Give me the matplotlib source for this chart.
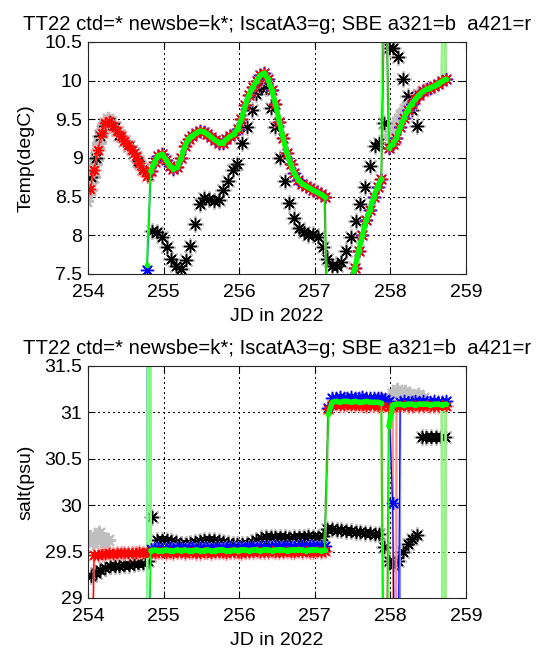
import numpy as np
import matplotlib
matplotlib.use('Agg')
import matplotlib.pyplot as plt
from matplotlib.ticker import FormatStrFormatter

plt.rcParams['font.family'] = ['Liberation Sans', 'DejaVu Sans']
plt.rcParams['font.size'] = 14

nan = np.nan

title = 'TT22 ctd=* newsbe=k*; IscatA3=g; SBE a321=b  a421=r'

# SBE / Iscat sampling, 0.05 day steps from 254.03
jd_sbe = 254.03 + 0.05 * np.arange(95)
# newsbe sampling, 1.5 h steps from 254.04
jd_newsbe = 254.04 + np.arange(76) / 16.0

# temperature, a421 (red)
temp_a421 = [8.60, 8.85, 9.10, 9.32, 9.45, 9.48, 9.42, 9.35, 9.28, 9.22,
             9.17, 9.10, 9.02, 8.94, 8.85, 8.77, 8.83, 8.95, 9.03, 9.05,
             8.98, 8.90, 8.86, 8.88, 9.00, 9.15, 9.25, 9.29, 9.32, 9.35,
             9.34, 9.31, 9.27, 9.23, 9.20, 9.20, 9.24, 9.28, 9.31, 9.38,
             9.50, 9.68, 9.82, 9.92, 10.00, 10.07, 10.10, 10.02, 9.88, 9.70,
             9.47, 9.26, 9.07, 8.92, 8.80, 8.72, 8.67, 8.64, 8.61, 8.58,
             8.56, 8.53, 8.50, 6.20, 6.40, 6.60, 6.80, 7.00, 7.20, 7.40,
             7.58, 7.80, 8.00, 8.20, 8.33, 8.50, 8.63, 8.73, 12.0, 9.13,
             9.18, 9.26, 9.40, 9.52, 9.62, 9.70, 9.76, 9.82, 9.86, 9.89,
             9.91, 9.93, 9.96, 9.99, 10.02]
# a321 (blue) and IscatA3 (green) start later and overlay a421 afterwards
temp_a321 = [nan] * 15 + [7.55] + temp_a421[16:]
temp_iscat = [nan] * 15 + [7.62] + temp_a421[16:]

# salinity
salt_a421 = [27.00, 29.46, 29.46, 29.47, 29.47, 29.48, 29.47, 29.48, 29.48, 29.49,
             29.48, 29.49, 29.49, 29.50, 29.49, 29.50, 29.50, 29.49, 29.50, 29.50,
             29.49, 29.50, 29.49, 29.50, 29.50, 29.49, 29.50, 29.50, 29.49, 29.49,
             29.50, 29.50, 29.49, 29.50, 29.50, 29.50, 29.49, 29.50, 29.50, 29.50,
             29.49, 29.50, 29.50, 29.50, 29.51, 29.50, 29.50, 29.50, 29.51, 29.50,
             29.50, 29.50, 29.51, 29.50, 29.50, 29.51, 29.50, 29.51, 29.50, 29.50,
             29.51, 29.50, 29.51, 31.04, 31.08, 31.09, 31.08, 31.08, 31.09, 31.08,
             31.08, 31.08, 31.08, 31.07, 31.08, 31.08, 31.07, 31.07, 26.00, 31.06,
             31.06, 31.07, 31.07, 31.08, 31.07, 31.07, 31.08, 31.07, 31.07, 31.08,
             31.07, 31.07, 31.07, 31.08, 31.07]
salt_iscat = ([nan] * 15 + [27.00] +
              [29.51, 29.52, 29.51, 29.51, 29.52, 29.51, 29.51, 29.52, 29.51, 29.52,
               29.51, 29.51, 29.52, 29.51, 29.51, 29.52, 29.51, 29.51, 29.52, 29.52,
               29.51, 29.51, 29.52, 29.51, 29.52, 29.52, 29.51, 29.52, 29.52, 29.51,
               29.52, 29.52, 29.51, 29.52, 29.52, 29.52, 29.51, 29.52, 29.52, 29.52,
               29.52, 29.51, 29.52, 29.52, 29.52, 29.51, 29.52] +
              [30.98] +
              [31.11, 31.12, 31.11, 31.12, 31.12, 31.11, 31.12, 31.11, 31.11, 31.12,
               31.11, 31.11, 31.11, 31.10] +
              [25.00, 30.85] +
              [31.08, 31.09, 31.09, 31.08, 31.09, 31.09, 31.08, 31.09, 31.09, 31.09,
               31.08, 31.09, 31.09, 31.08, 31.09])
salt_a321 = ([nan] * 15 + [27.00] +
             [29.53, 29.53, 29.54, 29.53, 29.53, 29.54, 29.53, 29.54, 29.54, 29.53,
              29.54, 29.54, 29.53, 29.54, 29.54, 29.54, 29.53, 29.54, 29.54, 29.54,
              29.54, 29.55, 29.54, 29.54, 29.55, 29.54, 29.55, 29.55, 29.54, 29.55,
              29.55, 29.55, 29.55, 29.56, 29.55, 29.55, 29.56, 29.55, 29.55, 29.56,
              29.56, 29.55, 29.56, 29.56, 29.55, 29.56, 29.56] +
             [31.05] +
             [31.15, 31.16, 31.17, 31.16, 31.16, 31.17, 31.16, 31.16, 31.17, 31.16,
              31.15, 31.16, 31.16, 31.15] +
             [31.14, 31.12, 30.02, 26.00] +
             [31.11, 31.12, 31.11, 31.11, 31.12, 31.11, 31.12, 31.11, 31.11, 31.12,
              31.11, 31.11, 31.12])

# raw (unedited) spikes seen only in the light traces: (jd, value)
temp_spikes_a421 = [(258.71, 14.0)]
temp_spikes_a321 = []
temp_spikes_iscat = [(257.91, 14.0), (258.72, 14.0)]
salt_spikes_a421 = [(258.07, 20.0), (258.71, 20.0)]
salt_spikes_a321 = [(254.79, 40.0), (258.11, 20.0)]
salt_spikes_iscat = [(254.81, 40.0), (258.72, 20.0)]

# newsbe (black stars)
newsbe_temp = [8.75, 9.00, 9.28, 9.42, 9.46, 9.40, 9.30, 9.22, 9.15, 9.06,
               8.96, 8.86, 8.78, 8.05, 8.04, 7.98, 7.85, 7.70, 7.60, 7.57,
               7.68, 7.86, 8.15, 8.40, 8.48, 8.47, 8.45, 8.46, 8.58, 8.70,
               8.85, 8.92, 9.20, 9.40, 9.62, 9.83, 9.92, 9.90, 9.65, 9.40,
               9.00, 8.70, 8.42, 8.22, 8.10, 8.04, 8.01, 8.02, 7.98, 7.85,
               7.70, 7.60, 7.60, 7.66, 7.80, 7.98, 8.18, 8.40, 8.62, 8.90,
               9.15, 9.20, 9.45, 10.42, 10.42, 10.30, 10.02, 9.80, 9.62, 9.42,
               nan, nan, nan, nan, nan, nan]
newsbe_salt = [29.24, 29.27, 29.30, 29.32, 29.34, 29.35, 29.35, 29.36, 29.36, 29.37,
               29.38, 29.38, 29.40, 29.87, 29.62, 29.63, 29.62, 29.61, 29.60, 29.58,
               29.58, 29.59, 29.60, 29.61, 29.62, 29.63, 29.62, 29.61, 29.60, 29.59,
               29.58, 29.58, 29.58, 29.58, 29.60, 29.63, 29.65, 29.66, 29.66, 29.66,
               29.66, 29.66, 29.65, 29.66, 29.66, 29.66, 29.67, 29.66, 29.66, 29.67,
               29.74, 29.74, 29.73, 29.73, 29.72, 29.72, 29.71, 29.71, 29.70, 29.70,
               29.69, 29.69, 29.55, 29.40, 29.36, 29.40, 29.50, 29.58, 29.64, 29.68,
               30.73, 30.74, 30.73, 30.73, 30.74, 30.73]

# ctd casts (gray)
ctd_jd_1 = [253.98, 254.02, 254.06, 254.10, 254.14, 254.18, 254.22, 254.26]
ctd_temp_1 = [8.45, 8.58, 8.75, 8.98, 9.20, 9.36, 9.45, 9.50]
ctd_salt_1 = [29.62, 29.66, 29.60, 29.63, 29.70, 29.64, 29.60, 29.62]
ctd_jd_2 = [257.99, 258.04, 258.09, 258.14, 258.19, 258.25, 258.31, 258.37, 258.43]
ctd_temp_2 = [9.30, 9.38, 9.47, 9.56, 9.64, 9.72, 9.78, 9.83, 9.86]
ctd_salt_2 = [31.12, 31.20, 31.24, 31.18, 31.22, 31.20, 31.16, 31.19, 31.15]

AST = (8, 2, 0)  # matlab style asterisk


def with_spikes(t, v, spikes):
    ts = np.concatenate([np.asarray(t, float), [s[0] for s in spikes]])
    vs = np.concatenate([np.asarray(v, float), [s[1] for s in spikes]])
    o = np.argsort(ts, kind='stable')
    return ts[o], vs[o]


def break_jumps(t, v, thr):
    # NaN between big jumps so the thick band stays off the vertical steps
    t = np.asarray(t, float)
    v = np.asarray(v, float)
    idx = np.where(np.abs(np.diff(v)) > thr)[0] + 1
    return np.insert(t, idx, nan), np.insert(v, idx, nan)


def panel(ax, red, blue, green, sp_r, sp_b, sp_g, newsbe, ctd1, ctd2,
          ylim, yticks, ylabel, thr):
    ax.set_xlim(254, 259)
    ax.set_ylim(*ylim)
    ax.set_xticks([254, 255, 256, 257, 258, 259])
    ax.set_yticks(yticks)
    ax.yaxis.set_major_formatter(FormatStrFormatter('%g'))
    # matlab dotted grid, crisp 1px dots
    ax.grid(True, color='k', linestyle=(0, (1, 2.6)), linewidth=1.0,
            antialiased=False)
    ax.set_axisbelow(True)

    # ctd
    for cv, cj in ((ctd1, ctd_jd_1), (ctd2, ctd_jd_2)):
        ax.plot(cj, cv, color='0.78', lw=8, solid_capstyle='round', zorder=1)
        ax.plot(cj, cv, ls='none', marker=AST, ms=11, mec='0.75', mew=1.5, zorder=1)
    # newsbe
    ax.plot(jd_newsbe, newsbe, ls='none', marker=AST, ms=12, mec='0.6',
            mew=1.2, alpha=0.7, zorder=2)
    ax.plot(jd_newsbe, newsbe, ls='none', marker=AST, ms=9, mec='k', mew=1.0, zorder=2)
    ax.plot(jd_newsbe, newsbe, ls='none', marker='.', ms=4, color='k', zorder=2)
    # raw (light) traces
    t, v = with_spikes(jd_sbe, blue, sp_b)
    ax.plot(t, v, color=(0.55, 0.55, 1), lw=1.6, marker=AST, ms=10,
            mec=(0.6, 0.6, 1), mew=1, zorder=3)
    t, v = with_spikes(jd_sbe, red, sp_r)
    ax.plot(t, v, color=(1, 0.55, 0.55), lw=1.6, marker=AST, ms=11,
            mec=(1, 0.6, 0.6), mew=1, zorder=3)
    t, v = with_spikes(jd_sbe, green, sp_g)
    ax.plot(t, v, color=(0.5, 1, 0.5), lw=1.8, zorder=3)
    # edited traces
    ax.plot(jd_sbe, blue, color='b', lw=0.8, marker=AST, ms=9, mew=1, zorder=4)
    ax.plot(jd_sbe, red, color='r', lw=0.8, marker=AST, ms=8, mew=1, zorder=5)
    g = (0, 1, 0)
    ax.plot(jd_sbe, green, color=g, lw=1.0, marker='o', ms=4, mec='none', zorder=6)
    t, v = break_jumps(jd_sbe, green, thr)
    ax.plot(t, v, color=g, lw=3.8, solid_capstyle='round', zorder=6)

    ax.tick_params(direction='in', top=True, right=True, length=5, width=0.8,
                   labelsize=14, colors='k')
    ax.tick_params(axis='x', pad=7)
    ax.tick_params(axis='y', pad=4)
    for s in ax.spines.values():
        s.set_color('0.15')
        s.set_linewidth(0.8)
        s.set_zorder(10)
    ax.set_xlabel('JD in 2022', fontsize=14, labelpad=5)
    ax.set_ylabel(ylabel, fontsize=14, labelpad=7)
    ax.set_title(title, fontsize=14.6, pad=9)


fig = plt.figure(figsize=(5.48, 6.48), dpi=100)
ax1 = fig.add_axes([88 / 548, 1 - 274 / 648, 378 / 548, 232 / 648])
ax2 = fig.add_axes([88 / 548, 1 - 598 / 648, 378 / 548, 232 / 648])

panel(ax1, temp_a421, temp_a321, temp_iscat,
      temp_spikes_a421, temp_spikes_a321, temp_spikes_iscat,
      newsbe_temp, ctd_temp_1, ctd_temp_2,
      (7.5, 10.5), [7.5, 8, 8.5, 9, 9.5, 10, 10.5], 'Temp(degC)', 0.4)
panel(ax2, salt_a421, salt_a321, salt_iscat,
      salt_spikes_a421, salt_spikes_a321, salt_spikes_iscat,
      newsbe_salt, ctd_salt_1, ctd_salt_2,
      (29, 31.5), [29, 29.5, 30, 30.5, 31, 31.5], 'salt(psu)', 0.3)

fig.savefig('out.png', dpi=100, facecolor='white')
